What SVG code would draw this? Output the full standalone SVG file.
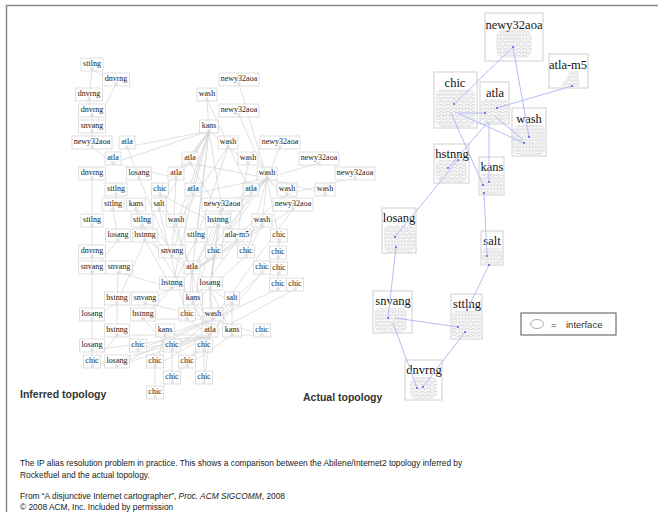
<svg xmlns="http://www.w3.org/2000/svg" width="658" height="512" viewBox="0 0 658 512">
<style>
.bg{fill:#fff}
.frame{fill:none;stroke:#8a8a8a;stroke-width:1.5}
.e{fill:none;stroke:#cdcdcd;stroke-width:0.6}
.ib{fill:#fff;fill-opacity:0.55;stroke:#d8d8d8;stroke-width:0.8}
.it{font-family:"Liberation Serif",serif;font-size:8px;fill:#222;text-anchor:middle}
.ic{fill:none;stroke:#bbb;stroke-width:0.5}
.ab{fill:#fff;stroke:#d0d0d0;stroke-width:1}
.at{font-family:"Liberation Serif",serif;font-size:12.5px;fill:#111;text-anchor:middle}
.cl{fill:url(#ifc)}
.be{fill:none;stroke:#b4bcf4;stroke-width:1}
.bd{fill:#5a5ae8}
.ttl{font-family:"Liberation Sans",Arial,sans-serif;font-size:10.5px;font-weight:bold;fill:#333}
.cap{font-family:"Liberation Sans",Arial,sans-serif;font-size:8.35px;fill:#222}
.lg{font-family:"Liberation Sans",Arial,sans-serif;font-size:9.5px;fill:#333}
</style>
<defs>
<pattern id="ifc" width="6.4" height="7" patternUnits="userSpaceOnUse">
<ellipse cx="3.2" cy="1.75" rx="2.6" ry="1.45" fill="none" stroke="#bdbdbd" stroke-width="0.55"/>
<ellipse cx="0" cy="5.25" rx="2.6" ry="1.45" fill="none" stroke="#bdbdbd" stroke-width="0.55"/>
<ellipse cx="6.4" cy="5.25" rx="2.6" ry="1.45" fill="none" stroke="#bdbdbd" stroke-width="0.55"/>
</pattern>
</defs>
<rect class="bg" x="0" y="0" width="658" height="512"/>
<path class="frame" d="M6.5,512 V5.5 H658"/>

<g id="inferred-connectors">
<path class="e" d="M92,69L116,84M92,69L89,99M89,99L92,115M92,115L92,131M116,84L92,131M92,131L92,147M92,147L113,163M209,131L127,147M209,131L113,163M127,147L139,178M113,163L176,178M207,99L209,131M207,99L251,194M239,84L267,178M239,115L267,178M280,147L267,178M319,163L267,178M353,178L287,194M228,147L176,225M228,147L196,240M248,163L237,240M190,163L237,240"/>
<path class="e" d="M209,131L176,178M209,131L160,194M209,131L193,194M209,131L159,209M209,131L176,225M209,131L196,240M209,131L172,256M209,131L192,272M209,131L248,163M209,131L190,163M209,131L222,209"/>
<path class="e" d="M267,178L190,163M267,178L193,194M267,178L251,194M267,178L222,209M267,178L218,225M267,178L196,240M267,178L214,256M267,178L192,272M267,178L279,240M267,178L287,194M267,178L325,194M267,178L293,209M267,178L262,225M267,178L246,256"/>
<path class="e" d="M92,178L92,225M92,225L92,256M92,256L92,272M116,194L113,209M113,209L118,240M118,240L92,272M136,209L145,240M136,209L192,272M159,209L176,225M159,209L187,319M160,194L218,225M160,194L192,272M142,225L172,256M142,225L193,303M176,225L192,272M218,225L192,272M218,225L210,288M218,225L193,303M262,225L246,256M262,225L192,272M145,240L172,256M145,240L117,303M145,240L172,288M196,240L172,288M237,240L192,272M237,240L193,303M279,240L278,257M278,257L278,273M278,273L278,289M246,256L210,288M214,256L210,288M172,256L192,272M118,272L172,288M92,272L92,319M118,272L117,303"/>
<path class="e" d="M192,272L172,288M192,272L193,303M192,272L187,319M192,272L210,335M172,288L145,303M172,288L143,319M210,288L193,303M210,288L232,303M210,288L213,319M210,288L210,335M210,288L232,335M117,303L92,319M117,303L117,335M145,303L213,319M193,303L213,319M193,303L210,335M232,303L210,335M232,303L232,335M92,319L92,350M143,319L172,350M143,319L213,319M187,319L210,335M213,319L165,335M213,319L138,350M213,319L172,350M213,319L204,350M213,319L117,366M117,335L92,366M117,335L210,335M165,335L155,366"/>
<path class="e" d="M210,335L138,350M210,335L172,350M210,335L204,350M210,335L92,366M210,335L117,366M210,335L155,366M210,335L187,366M210,335L172,382M210,335L204,382M210,335L155,397M232,335L187,366M232,335L262,335M262,335L213,319M92,350L210,335M204,350L204,382M155,366L155,397M172,350L172,382M263,272L210,335M263,272L213,319M278,289L213,319M295,289L210,335M222,209L192,272M222,209L210,288M293,209L192,272M293,209L213,319M287,194L192,272M251,194L214,256M139,178L172,256M176,178L172,256M193,194L172,288M92,350L92,366"/>
</g>

<g id="inferred-nodes">
<g id="i1" transform="translate(92,63)"><rect class="ib" x="-11" y="-5" width="22" height="13"/><text class="it" y="3">sttlng</text><circle class="ic" cy="6" r="1.3"/></g>
<g id="i2" transform="translate(116,78)"><rect class="ib" x="-13.5" y="-5" width="27" height="13"/><text class="it" y="3">dnvrng</text><circle class="ic" cy="6" r="1.3"/></g>
<g id="i3" transform="translate(89,93)"><rect class="ib" x="-13.5" y="-5" width="27" height="13"/><text class="it" y="3">dnvrng</text><circle class="ic" cy="6" r="1.3"/></g>
<g id="i4" transform="translate(92,109)"><rect class="ib" x="-13.5" y="-5" width="27" height="13"/><text class="it" y="3">dnvrng</text><circle class="ic" cy="6" r="1.3"/></g>
<g id="i5" transform="translate(92,125)"><rect class="ib" x="-13.5" y="-5" width="27" height="13"/><text class="it" y="3">snvang</text><circle class="ic" cy="6" r="1.3"/></g>
<g id="i6" transform="translate(92,141)"><rect class="ib" x="-20" y="-5" width="40" height="13"/><text class="it" y="3">newy32aoa</text><circle class="ic" cy="6" r="1.3"/></g>
<g id="i7" transform="translate(127,141)"><rect class="ib" x="-8" y="-5" width="16" height="13"/><text class="it" y="3">atla</text><circle class="ic" cy="6" r="1.3"/></g>
<g id="i8" transform="translate(113,157)"><rect class="ib" x="-8" y="-5" width="16" height="13"/><text class="it" y="3">atla</text><circle class="ic" cy="6" r="1.3"/></g>
<g id="i9" transform="translate(190,157)"><rect class="ib" x="-8" y="-5" width="16" height="13"/><text class="it" y="3">atla</text><circle class="ic" cy="6" r="1.3"/></g>
<g id="i10" transform="translate(207,93)"><rect class="ib" x="-10" y="-5" width="20" height="13"/><text class="it" y="3">wash</text><circle class="ic" cy="6" r="1.3"/></g>
<g id="i11" transform="translate(209,125)"><rect class="ib" x="-9.5" y="-5" width="19" height="13"/><text class="it" y="3">kans</text><circle class="ic" cy="6" r="1.3"/></g>
<g id="i12" transform="translate(239,78)"><rect class="ib" x="-20" y="-5" width="40" height="13"/><text class="it" y="3">newy32aoa</text><circle class="ic" cy="6" r="1.3"/></g>
<g id="i13" transform="translate(239,109)"><rect class="ib" x="-20" y="-5" width="40" height="13"/><text class="it" y="3">newy32aoa</text><circle class="ic" cy="6" r="1.3"/></g>
<g id="i14" transform="translate(228,141)"><rect class="ib" x="-10" y="-5" width="20" height="13"/><text class="it" y="3">wash</text><circle class="ic" cy="6" r="1.3"/></g>
<g id="i15" transform="translate(280,141)"><rect class="ib" x="-20" y="-5" width="40" height="13"/><text class="it" y="3">newy32aoa</text><circle class="ic" cy="6" r="1.3"/></g>
<g id="i16" transform="translate(248,157)"><rect class="ib" x="-10" y="-5" width="20" height="13"/><text class="it" y="3">wash</text><circle class="ic" cy="6" r="1.3"/></g>
<g id="i17" transform="translate(319,157)"><rect class="ib" x="-20" y="-5" width="40" height="13"/><text class="it" y="3">newy32aoa</text><circle class="ic" cy="6" r="1.3"/></g>
<g id="i18" transform="translate(92,172)"><rect class="ib" x="-13.5" y="-5" width="27" height="13"/><text class="it" y="3">dnvrng</text><circle class="ic" cy="6" r="1.3"/></g>
<g id="i19" transform="translate(139,172)"><rect class="ib" x="-12.5" y="-5" width="25" height="13"/><text class="it" y="3">losang</text><circle class="ic" cy="6" r="1.3"/></g>
<g id="i20" transform="translate(176,172)"><rect class="ib" x="-8" y="-5" width="16" height="13"/><text class="it" y="3">atla</text><circle class="ic" cy="6" r="1.3"/></g>
<g id="i21" transform="translate(267,172)"><rect class="ib" x="-10" y="-5" width="20" height="13"/><text class="it" y="3">wash</text><circle class="ic" cy="6" r="1.3"/></g>
<g id="i22" transform="translate(355,172)"><rect class="ib" x="-20" y="-5" width="40" height="13"/><text class="it" y="3">newy32aoa</text><circle class="ic" cy="6" r="1.3"/></g>
<g id="i23" transform="translate(116,188)"><rect class="ib" x="-11" y="-5" width="22" height="13"/><text class="it" y="3">sttlng</text><circle class="ic" cy="6" r="1.3"/></g>
<g id="i24" transform="translate(160,188)"><rect class="ib" x="-8.5" y="-5" width="17" height="13"/><text class="it" y="3">chic</text><circle class="ic" cy="6" r="1.3"/></g>
<g id="i25" transform="translate(193,188)"><rect class="ib" x="-8" y="-5" width="16" height="13"/><text class="it" y="3">atla</text><circle class="ic" cy="6" r="1.3"/></g>
<g id="i26" transform="translate(251,188)"><rect class="ib" x="-8" y="-5" width="16" height="13"/><text class="it" y="3">atla</text><circle class="ic" cy="6" r="1.3"/></g>
<g id="i27" transform="translate(287,188)"><rect class="ib" x="-10" y="-5" width="20" height="13"/><text class="it" y="3">wash</text><circle class="ic" cy="6" r="1.3"/></g>
<g id="i28" transform="translate(325,188)"><rect class="ib" x="-10" y="-5" width="20" height="13"/><text class="it" y="3">wash</text><circle class="ic" cy="6" r="1.3"/></g>
<g id="i29" transform="translate(113,203)"><rect class="ib" x="-11" y="-5" width="22" height="13"/><text class="it" y="3">sttlng</text><circle class="ic" cy="6" r="1.3"/></g>
<g id="i30" transform="translate(136,203)"><rect class="ib" x="-9.5" y="-5" width="19" height="13"/><text class="it" y="3">kans</text><circle class="ic" cy="6" r="1.3"/></g>
<g id="i31" transform="translate(159,203)"><rect class="ib" x="-7.5" y="-5" width="15" height="13"/><text class="it" y="3">salt</text><circle class="ic" cy="6" r="1.3"/></g>
<g id="i32" transform="translate(222,203)"><rect class="ib" x="-20" y="-5" width="40" height="13"/><text class="it" y="3">newy32aoa</text><circle class="ic" cy="6" r="1.3"/></g>
<g id="i33" transform="translate(293,203)"><rect class="ib" x="-20" y="-5" width="40" height="13"/><text class="it" y="3">newy32aoa</text><circle class="ic" cy="6" r="1.3"/></g>
<g id="i34" transform="translate(92,219)"><rect class="ib" x="-11" y="-5" width="22" height="13"/><text class="it" y="3">sttlng</text><circle class="ic" cy="6" r="1.3"/></g>
<g id="i35" transform="translate(142,219)"><rect class="ib" x="-11" y="-5" width="22" height="13"/><text class="it" y="3">sttlng</text><circle class="ic" cy="6" r="1.3"/></g>
<g id="i36" transform="translate(176,219)"><rect class="ib" x="-10" y="-5" width="20" height="13"/><text class="it" y="3">wash</text><circle class="ic" cy="6" r="1.3"/></g>
<g id="i37" transform="translate(218,219)"><rect class="ib" x="-12.5" y="-5" width="25" height="13"/><text class="it" y="3">hstnng</text><circle class="ic" cy="6" r="1.3"/></g>
<g id="i38" transform="translate(262,219)"><rect class="ib" x="-10" y="-5" width="20" height="13"/><text class="it" y="3">wash</text><circle class="ic" cy="6" r="1.3"/></g>
<g id="i39" transform="translate(118,234)"><rect class="ib" x="-12.5" y="-5" width="25" height="13"/><text class="it" y="3">losang</text><circle class="ic" cy="6" r="1.3"/></g>
<g id="i40" transform="translate(145,234)"><rect class="ib" x="-12.5" y="-5" width="25" height="13"/><text class="it" y="3">hstnng</text><circle class="ic" cy="6" r="1.3"/></g>
<g id="i41" transform="translate(196,234)"><rect class="ib" x="-11" y="-5" width="22" height="13"/><text class="it" y="3">sttlng</text><circle class="ic" cy="6" r="1.3"/></g>
<g id="i42" transform="translate(237,234)"><rect class="ib" x="-14" y="-5" width="28" height="13"/><text class="it" y="3">atla-m5</text><circle class="ic" cy="6" r="1.3"/></g>
<g id="i43" transform="translate(279,234)"><rect class="ib" x="-8.5" y="-5" width="17" height="13"/><text class="it" y="3">chic</text><circle class="ic" cy="6" r="1.3"/></g>
<g id="i44" transform="translate(92,250)"><rect class="ib" x="-13.5" y="-5" width="27" height="13"/><text class="it" y="3">dnvrng</text><circle class="ic" cy="6" r="1.3"/></g>
<g id="i45" transform="translate(172,250)"><rect class="ib" x="-13.5" y="-5" width="27" height="13"/><text class="it" y="3">snvang</text><circle class="ic" cy="6" r="1.3"/></g>
<g id="i46" transform="translate(214,250)"><rect class="ib" x="-8.5" y="-5" width="17" height="13"/><text class="it" y="3">chic</text><circle class="ic" cy="6" r="1.3"/></g>
<g id="i47" transform="translate(246,250)"><rect class="ib" x="-8.5" y="-5" width="17" height="13"/><text class="it" y="3">chic</text><circle class="ic" cy="6" r="1.3"/></g>
<g id="i48" transform="translate(278,251)"><rect class="ib" x="-8.5" y="-5" width="17" height="13"/><text class="it" y="3">chic</text><circle class="ic" cy="6" r="1.3"/></g>
<g id="i49" transform="translate(92,266)"><rect class="ib" x="-13.5" y="-5" width="27" height="13"/><text class="it" y="3">snvang</text><circle class="ic" cy="6" r="1.3"/></g>
<g id="i50" transform="translate(119,266)"><rect class="ib" x="-13.5" y="-5" width="27" height="13"/><text class="it" y="3">snvang</text><circle class="ic" cy="6" r="1.3"/></g>
<g id="i51" transform="translate(192,266)"><rect class="ib" x="-8" y="-5" width="16" height="13"/><text class="it" y="3">atla</text><circle class="ic" cy="6" r="1.3"/></g>
<g id="i52" transform="translate(262,266)"><rect class="ib" x="-8.5" y="-5" width="17" height="13"/><text class="it" y="3">chic</text><circle class="ic" cy="6" r="1.3"/></g>
<g id="i53" transform="translate(279,267)"><rect class="ib" x="-8.5" y="-5" width="17" height="13"/><text class="it" y="3">chic</text><circle class="ic" cy="6" r="1.3"/></g>
<g id="i54" transform="translate(172,282)"><rect class="ib" x="-12.5" y="-5" width="25" height="13"/><text class="it" y="3">hstnng</text><circle class="ic" cy="6" r="1.3"/></g>
<g id="i55" transform="translate(210,282)"><rect class="ib" x="-12.5" y="-5" width="25" height="13"/><text class="it" y="3">losang</text><circle class="ic" cy="6" r="1.3"/></g>
<g id="i56" transform="translate(278,283)"><rect class="ib" x="-8.5" y="-5" width="17" height="13"/><text class="it" y="3">chic</text><circle class="ic" cy="6" r="1.3"/></g>
<g id="i57" transform="translate(295,283)"><rect class="ib" x="-8.5" y="-5" width="17" height="13"/><text class="it" y="3">chic</text><circle class="ic" cy="6" r="1.3"/></g>
<g id="i58" transform="translate(117,297)"><rect class="ib" x="-12.5" y="-5" width="25" height="13"/><text class="it" y="3">hstnng</text><circle class="ic" cy="6" r="1.3"/></g>
<g id="i59" transform="translate(145,297)"><rect class="ib" x="-13.5" y="-5" width="27" height="13"/><text class="it" y="3">snvang</text><circle class="ic" cy="6" r="1.3"/></g>
<g id="i60" transform="translate(193,297)"><rect class="ib" x="-9.5" y="-5" width="19" height="13"/><text class="it" y="3">kans</text><circle class="ic" cy="6" r="1.3"/></g>
<g id="i61" transform="translate(232,297)"><rect class="ib" x="-7.5" y="-5" width="15" height="13"/><text class="it" y="3">salt</text><circle class="ic" cy="6" r="1.3"/></g>
<g id="i62" transform="translate(92,313)"><rect class="ib" x="-12.5" y="-5" width="25" height="13"/><text class="it" y="3">losang</text><circle class="ic" cy="6" r="1.3"/></g>
<g id="i63" transform="translate(143,313)"><rect class="ib" x="-12.5" y="-5" width="25" height="13"/><text class="it" y="3">hstnng</text><circle class="ic" cy="6" r="1.3"/></g>
<g id="i64" transform="translate(187,313)"><rect class="ib" x="-8.5" y="-5" width="17" height="13"/><text class="it" y="3">chic</text><circle class="ic" cy="6" r="1.3"/></g>
<g id="i65" transform="translate(213,313)"><rect class="ib" x="-10" y="-5" width="20" height="13"/><text class="it" y="3">wash</text><circle class="ic" cy="6" r="1.3"/></g>
<g id="i66" transform="translate(117,329)"><rect class="ib" x="-12.5" y="-5" width="25" height="13"/><text class="it" y="3">hstnng</text><circle class="ic" cy="6" r="1.3"/></g>
<g id="i67" transform="translate(165,329)"><rect class="ib" x="-9.5" y="-5" width="19" height="13"/><text class="it" y="3">kans</text><circle class="ic" cy="6" r="1.3"/></g>
<g id="i68" transform="translate(210,329)"><rect class="ib" x="-8" y="-5" width="16" height="13"/><text class="it" y="3">atla</text><circle class="ic" cy="6" r="1.3"/></g>
<g id="i69" transform="translate(232,329)"><rect class="ib" x="-9.5" y="-5" width="19" height="13"/><text class="it" y="3">kans</text><circle class="ic" cy="6" r="1.3"/></g>
<g id="i70" transform="translate(262,329)"><rect class="ib" x="-8.5" y="-5" width="17" height="13"/><text class="it" y="3">chic</text><circle class="ic" cy="6" r="1.3"/></g>
<g id="i71" transform="translate(92,344)"><rect class="ib" x="-12.5" y="-5" width="25" height="13"/><text class="it" y="3">losang</text><circle class="ic" cy="6" r="1.3"/></g>
<g id="i72" transform="translate(138,344)"><rect class="ib" x="-8.5" y="-5" width="17" height="13"/><text class="it" y="3">chic</text><circle class="ic" cy="6" r="1.3"/></g>
<g id="i73" transform="translate(172,344)"><rect class="ib" x="-8.5" y="-5" width="17" height="13"/><text class="it" y="3">chic</text><circle class="ic" cy="6" r="1.3"/></g>
<g id="i74" transform="translate(204,344)"><rect class="ib" x="-8.5" y="-5" width="17" height="13"/><text class="it" y="3">chic</text><circle class="ic" cy="6" r="1.3"/></g>
<g id="i75" transform="translate(92,360)"><rect class="ib" x="-8.5" y="-5" width="17" height="13"/><text class="it" y="3">chic</text><circle class="ic" cy="6" r="1.3"/></g>
<g id="i76" transform="translate(117,360)"><rect class="ib" x="-12.5" y="-5" width="25" height="13"/><text class="it" y="3">losang</text><circle class="ic" cy="6" r="1.3"/></g>
<g id="i77" transform="translate(155,360)"><rect class="ib" x="-8.5" y="-5" width="17" height="13"/><text class="it" y="3">chic</text><circle class="ic" cy="6" r="1.3"/></g>
<g id="i78" transform="translate(187,360)"><rect class="ib" x="-8.5" y="-5" width="17" height="13"/><text class="it" y="3">chic</text><circle class="ic" cy="6" r="1.3"/></g>
<g id="i79" transform="translate(172,376)"><rect class="ib" x="-8.5" y="-5" width="17" height="13"/><text class="it" y="3">chic</text><circle class="ic" cy="6" r="1.3"/></g>
<g id="i80" transform="translate(204,376)"><rect class="ib" x="-8.5" y="-5" width="17" height="13"/><text class="it" y="3">chic</text><circle class="ic" cy="6" r="1.3"/></g>
<g id="i81" transform="translate(155,391)"><rect class="ib" x="-8.5" y="-5" width="17" height="13"/><text class="it" y="3">chic</text><circle class="ic" cy="6" r="1.3"/></g>
</g>

<g id="actual-nodes">
<g id="a-newy32aoa"><rect class="ab" x="485" y="13" width="58" height="48"/><text class="at" x="514" y="29">newy32aoa</text><rect class="cl" x="496" y="30" width="36" height="28" rx="8"/></g>
<g id="a-atla-m5"><rect class="ab" x="549" y="54" width="39" height="34"/><text class="at" x="568" y="69">atla-m5</text><path class="cl" d="M570,71 L578,71 L580,87 L561,87 Z"/></g>
<g id="a-chic"><rect class="ab" x="434" y="72" width="43" height="56"/><text class="at" x="455" y="87">chic</text><rect class="cl" x="436" y="89" width="39" height="38" rx="6"/></g>
<g id="a-atla"><rect class="ab" x="480" y="82" width="29" height="42"/><text class="at" x="495" y="97">atla</text><rect class="cl" x="481" y="99" width="27" height="24" rx="5"/></g>
<g id="a-wash"><rect class="ab" x="512" y="108" width="34" height="48"/><text class="at" x="529" y="123">wash</text><rect class="cl" x="513" y="125" width="32" height="30" rx="6"/></g>
<g id="a-hstnng"><rect class="ab" x="434" y="144" width="35" height="39"/><text class="at" x="452" y="158">hstnng</text><rect class="cl" x="436" y="160" width="31" height="22" rx="5"/></g>
<g id="a-kans"><rect class="ab" x="479" y="157" width="25" height="38"/><text class="at" x="492" y="171">kans</text><rect class="cl" x="480" y="174" width="23" height="20" rx="4"/></g>
<g id="a-losang"><rect class="ab" x="382" y="208" width="34" height="45"/><text class="at" x="399" y="222">losang</text><rect class="cl" x="384" y="225" width="31" height="27" rx="6"/></g>
<g id="a-salt"><rect class="ab" x="481" y="231" width="22" height="34"/><text class="at" x="492" y="245">salt</text><rect class="cl" x="482" y="248" width="20" height="16" rx="4"/></g>
<g id="a-snvang"><rect class="ab" x="373" y="291" width="39" height="42"/><text class="at" x="393" y="305">snvang</text><rect class="cl" x="375" y="308" width="32" height="24" rx="5"/></g>
<g id="a-sttlng"><rect class="ab" x="451" y="294" width="31" height="45"/><text class="at" x="467" y="308">sttlng</text><rect class="cl" x="452" y="311" width="29" height="27" rx="5"/></g>
<g id="a-dnvrng"><rect class="ab" x="405" y="360" width="37" height="40"/><text class="at" x="424" y="374">dnvrng</text><rect class="cl" x="410" y="377" width="27" height="22" rx="6"/></g>
</g>

<g id="actual-connectors">
<path class="be" d="M513,47L454,104M513,47L529,137M572,86L497,108M460,113L485,113M455,112L524,143M451,113L483,185M489,122L489,182M488,122L448,168M495,116L523,140M458,160L395,237M484,193L487,256M489,265L467,310M396,247L388,318M395,318L458,327M393,323L417,388M465,332L423,387"/>
<g class="bd">
<circle cx="513" cy="47" r="1"/><circle cx="454" cy="104" r="1"/><circle cx="529" cy="137" r="1"/><circle cx="572" cy="86" r="1"/><circle cx="497" cy="108" r="1"/><circle cx="485" cy="113" r="1"/><circle cx="524" cy="143" r="1"/><circle cx="483" cy="185" r="1"/><circle cx="489" cy="182" r="1"/><circle cx="448" cy="168" r="1"/><circle cx="458" cy="160" r="1"/><circle cx="395" cy="237" r="1"/><circle cx="487" cy="256" r="1"/><circle cx="489" cy="265" r="1"/><circle cx="467" cy="310" r="1"/><circle cx="388" cy="318" r="1"/><circle cx="458" cy="327" r="1"/><circle cx="417" cy="388" r="1"/><circle cx="423" cy="387" r="1"/><circle cx="396" cy="247" r="1"/><circle cx="465" cy="332" r="1"/><circle cx="484" cy="193" r="1"/>
</g>
</g>

<g id="legend">
<rect x="521" y="313" width="95" height="22" fill="#fff" stroke="#555" stroke-width="1"/>
<ellipse cx="537" cy="324" rx="6.5" ry="4.5" fill="none" stroke="#999" stroke-width="0.8"/>
<text class="lg" x="551" y="327.5">=</text>
<text class="lg" x="566" y="327.5">interface</text>
</g>

<text class="ttl" x="20" y="398">Inferred topology</text>
<text class="ttl" x="303" y="401">Actual topology</text>

<g id="caption">
<text class="cap" x="20" y="466">The IP alias resolution problem in practice. This shows a comparison between the Abilene/Internet2 topology inferred by</text>
<text class="cap" x="20" y="478">Rocketfuel and the actual topology.</text>
<text class="cap" x="20" y="499">From “A disjunctive Internet cartographer”, <tspan font-style="italic">Proc. ACM SIGCOMM</tspan>, 2008</text>
<text class="cap" x="20" y="510">© 2008 ACM, Inc. Included by permission</text>
</g>
</svg>
